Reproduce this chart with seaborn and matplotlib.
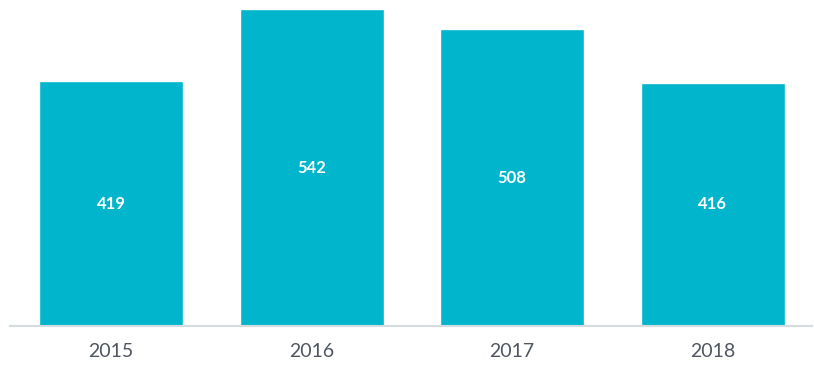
import matplotlib
matplotlib.use("Agg")
import matplotlib.pyplot as plt
import seaborn as sns
import pandas as pd

years = ["2015", "2016", "2017", "2018"]
values = [419, 542, 508, 416]

sns.set_style("white")
plt.rcParams['font.family'] = ['Lato', 'DejaVu Sans']

df = pd.DataFrame({"year": years, "value": values})
fig = plt.figure(figsize=(8.14, 3.68), dpi=100)
ax = fig.add_axes([10/814, 42/368, 802/814, 326/368])
sns.barplot(data=df, x="year", y="value", color="#00B5CC", saturation=1, width=0.718, ax=ax)
ax.set_xlim(-0.504, 3.496)
ax.set_ylim(0, 558)
for i, v in enumerate(values):
    ax.text(i, v / 2, str(v), ha="center", va="center", color="white", fontsize=12, fontweight="bold")
for s in ["top", "right", "left"]:
    ax.spines[s].set_visible(False)
ax.spines["bottom"].set_color("#d3dce0")
ax.spines["bottom"].set_linewidth(1.5)
ax.set_yticks([])
ax.set_xlabel("")
ax.set_ylabel("")
ax.tick_params(axis="x", length=0, pad=12, labelsize=14, labelcolor="#4f5660")
fig.savefig("out.png", dpi=100)
